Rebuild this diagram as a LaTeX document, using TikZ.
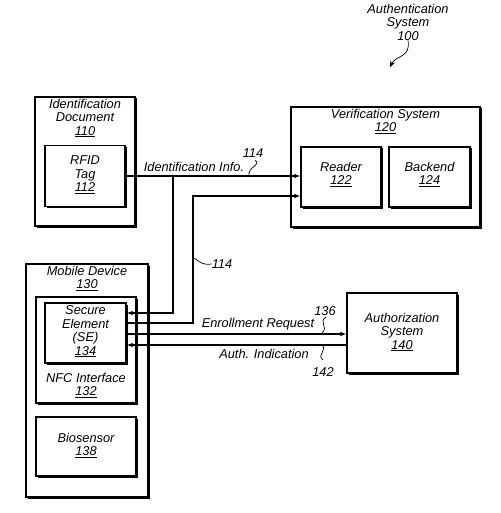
\documentclass[tikz,border=0pt]{standalone}
\usepackage{fontspec}
\setmainfont{Liberation Sans}
\usetikzlibrary{arrows.meta,shadows}
\begin{document}
\begin{tikzpicture}[x=1pt,y=-1pt,
  box/.style={draw, line width=1.2pt, fill=white, inner sep=0pt,
    drop shadow={shadow xshift=1.5pt, shadow yshift=-1.5pt, opacity=1, fill=black}},
  txt/.style={font=\fontsize{12.8}{13.5}\selectfont\itshape, align=center, inner sep=0pt},
  conn/.style={line width=1.2pt},
  tip/.style={-{Latex[length=6pt,width=4.5pt]}},
  rtip/.style={{Latex[length=6pt,width=4.5pt]}-},
  lead/.style={line width=0.7pt}]
\useasboundingbox (0,0) rectangle (500,513);

% boxes
\node[box, minimum width=100pt, minimum height=129pt] (iddoc) at (85,161.5) {};
\node[box, minimum width=80pt, minimum height=61pt] (rfid) at (85,176) {};
\node[box, minimum width=189pt, minimum height=120pt] (ver) at (385.5,167) {};
\node[box, minimum width=80pt, minimum height=60pt] (reader) at (341,177) {};
\node[box, minimum width=81pt, minimum height=60pt] (backend) at (429.5,177) {};
\node[box, minimum width=122pt, minimum height=233pt] (mobile) at (87,380.5) {};
\node[box, minimum width=100pt, minimum height=106pt] (nfc) at (86,350) {};
\node[box, minimum width=81pt, minimum height=60pt] (se) at (85.5,333) {};
\node[box, minimum width=100pt, minimum height=59pt] (bio) at (86,446.5) {};
\node[box, minimum width=110pt, minimum height=80pt] (auth) at (402,333) {};

% box texts
\node[txt] (iddoct) at (85,118) {Identification\\Document\\\underline{110}};
\node[txt] (rfidt) at (85,175) {RFID\\Tag\\\underline{112}};
\node[txt] (vert) at (385.5,121.5) {Verification System\\\underline{120}};
\node[txt] (readert) at (341,174.5) {Reader\\\underline{122}};
\node[txt] (backendt) at (429.5,174.5) {Backend\\\underline{124}};
\node[txt] (mobilet) at (87,278.5) {Mobile Device\\\underline{130}};
\node[txt] (set) at (85.5,331.5) {Secure\\Element\\(SE)\\\underline{134}};
\node[txt] (nfct) at (86,385.5) {NFC Interface\\\underline{132}};
\node[txt] (biot) at (86,445.5) {Biosensor\\\underline{138}};
\node[txt] (autht) at (402,332) {Authorization\\System\\\underline{140}};
\node[txt] (sys) at (408,22) {Authentication\\System\\100};

% connector coordinates
\coordinate (j1) at (173,176);
\coordinate (j2) at (193,196);
\coordinate (seA) at ([yshift=20pt]se.east);
\coordinate (seB) at ([yshift=10pt]se.east);
\coordinate (seC) at ([yshift=-1pt]se.east);
\coordinate (seD) at ([yshift=-12pt]se.east);

% connectors
\draw[conn,tip] (rfid.east) -- (rfid.east -| reader.west);
\draw[conn,tip] (j1) |- (seA);
\draw[conn,tip] (seB) -| (j2) -- (j2 -| reader.west);
\draw[conn,tip] (seC) -- (seC -| auth.west);
\draw[conn,rtip] (seD) -- (seD -| auth.west);

% labels
\node[txt] (idinfo) at (194,167) {Identification Info.};
\node[txt] (n114a) at (253,153) {114};
\node[txt] (n114b) at (222,264) {114};
\node[txt] (enr) at (258,324) {Enrollment Request};
\node[txt] (authind) at (264,354) {Auth. Indication};
\node[txt] (n136) at (325,311) {136};
\node[txt] (n142) at (323,372) {142};

% leaders
\coordinate (l114a) at (249,176);
\draw[lead] (255,160) .. controls (262,165) and (247,167) .. (l114a);
\coordinate (l114b) at (193,258);
\draw[lead] (l114b) .. controls (197,258) and (200,266) .. (n114b.west);
\coordinate (l136) at (322,333);
\draw[lead] (326,317) .. controls (318,322) and (329,327) .. (l136);
\coordinate (l142) at (322,345);
\draw[lead] (l142) .. controls (328,350) and (316,355) .. (323,360);
\coordinate (sysarr) at (390,67);
\draw[lead,-{Stealth[length=6pt,width=5pt]}] (sys.south) .. controls (411,58) and (396,55) .. (sysarr);
\end{tikzpicture}
\end{document}
